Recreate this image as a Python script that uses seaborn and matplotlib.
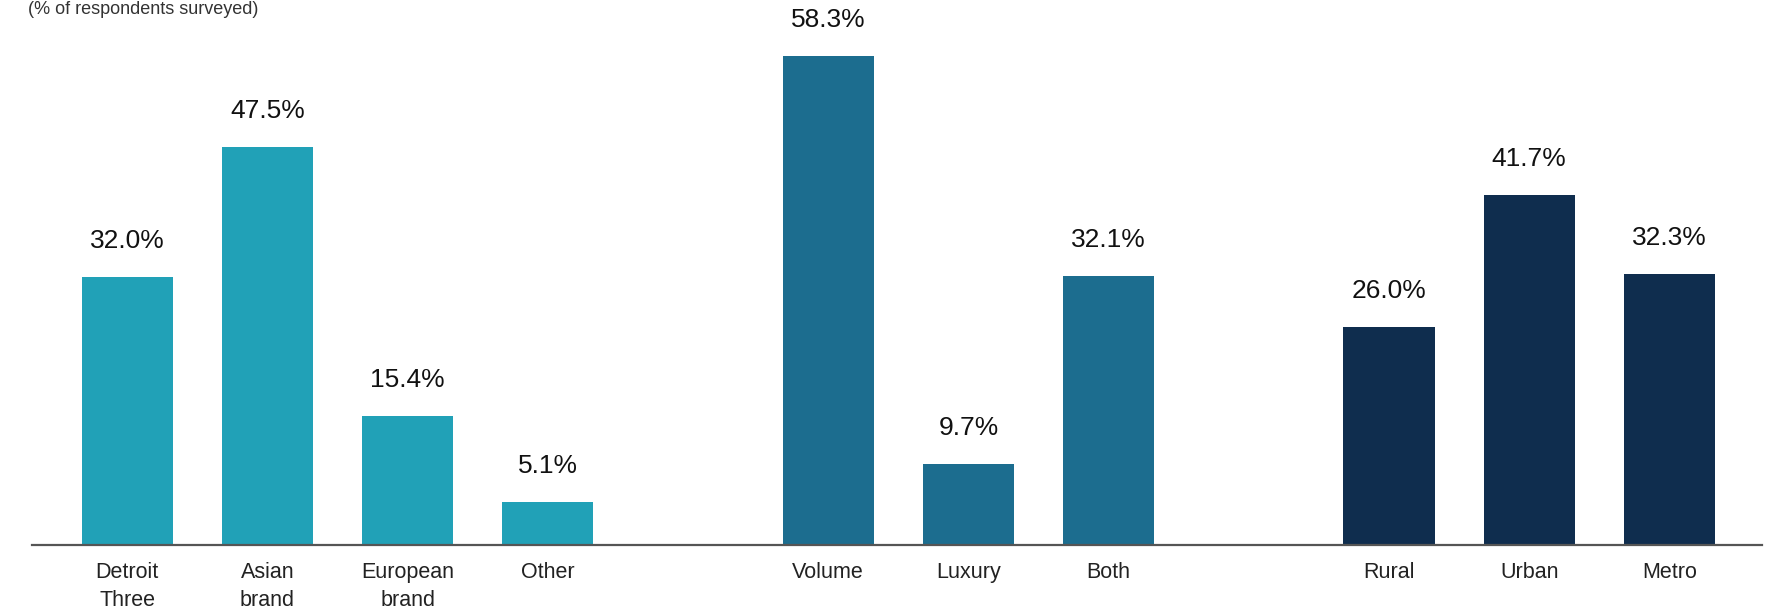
import matplotlib
matplotlib.use("Agg")
import matplotlib.pyplot as plt
import seaborn as sns
import pandas as pd

# Survey shares by group
brand_labels = ["Detroit\nThree", "Asian\nbrand", "European\nbrand", "Other"]
brand_values = [32.0, 47.5, 15.4, 5.1]

segment_labels = ["Volume", "Luxury", "Both"]
segment_values = [58.3, 9.7, 32.1]

area_labels = ["Rural", "Urban", "Metro"]
area_values = [26.0, 41.7, 32.3]

group_colors = ["#21A1B7", "#1C6D8F", "#0F2D4E"]

# Assemble one table; each group is separated by an empty slot
rows = []
pos = 0
for gi, (labels, values) in enumerate([(brand_labels, brand_values),
                                       (segment_labels, segment_values),
                                       (area_labels, area_values)]):
    for lab, val in zip(labels, values):
        rows.append({"pos": pos, "label": lab, "value": val, "group": gi})
        pos += 1
    pos += 1
df = pd.DataFrame(rows)

sns.set_theme(style="white")
plt.rcParams["font.family"] = ["Liberation Sans", "DejaVu Sans"]

fig = plt.figure(figsize=(17.69, 6.08), dpi=100)
ax = fig.add_axes([0.018, 0.1036, 0.978, 0.8964])

palette = {i: c for i, c in enumerate(group_colors)}
sns.barplot(data=df, x="pos", y="value", hue="group", palette=palette,
            order=list(range(df["pos"].max() + 1)), native_scale=True,
            width=0.65, dodge=False, legend=False, ax=ax, linewidth=0,
            saturation=1)

for _, r in df.iterrows():
    ax.text(r["pos"], r["value"] + 4.3, f"{r['value']:.1f}%",
            ha="center", va="center", fontsize=19, color="#111111")

ax.set_xlim(-0.68, 11.66)
ax.set_ylim(0, 65.0)
ax.set_xticks(df["pos"])
ax.set_xticklabels(df["label"], fontsize=15.5, color="#222222",
                   linespacing=1.45)
ax.tick_params(axis="x", length=0, pad=12)
ax.set_yticks([])
ax.set_xlabel("")
ax.set_ylabel("")
for side in ["top", "right", "left"]:
    ax.spines[side].set_visible(False)
ax.spines["bottom"].set_color("#555555")
ax.spines["bottom"].set_linewidth(1.6)

fig.text(0.016, 0.998, "(% of respondents surveyed)", ha="left", va="top",
         fontsize=13, color="#333333")

fig.savefig("out.png", dpi=100, facecolor="white")
